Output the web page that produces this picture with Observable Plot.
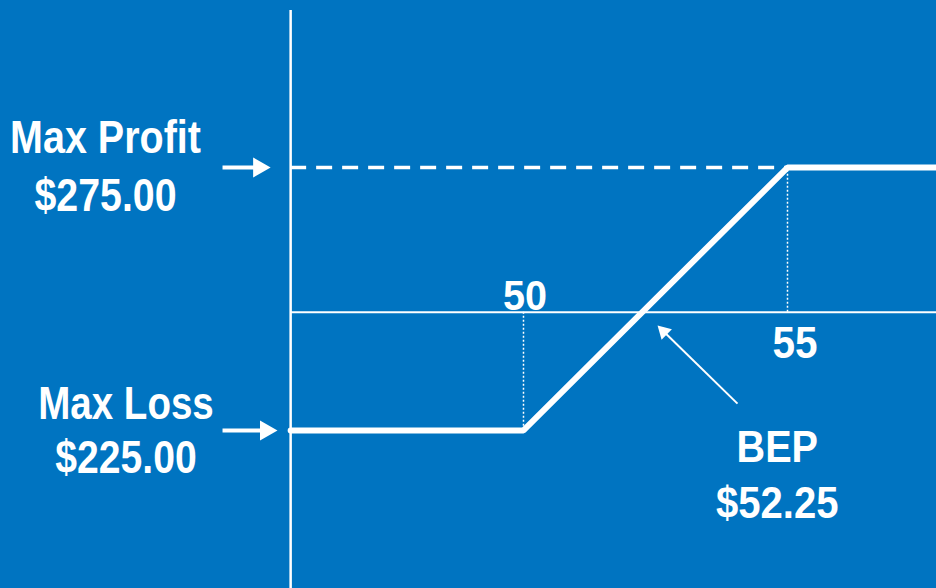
<!DOCTYPE html>
<html>
<head>
<meta charset="utf-8">
<script src="https://cdn.jsdelivr.net/npm/d3@7"></script>
<script src="https://cdn.jsdelivr.net/npm/@observablehq/plot@0.6"></script>
<style>
  html, body { margin: 0; padding: 0; background: #0074C1; }
  #chart svg { display: block; }
</style>
</head>
<body>
<div id="chart"></div>
<script>
// ---- data ----
const strikes = [50, 55];
const prices = [45.59, 50, 55, 58];          // underlying price at expiry
const pnl = [-225, -225, 275, 275];          // spread profit / loss
const maxProfit = 275;
const maxLoss = -225;
const bep = 52.25;
const axisX = 45.59;                          // price where the vertical axis is drawn
const labelProfit = "Max Profit";
const labelLoss = "Max Loss";
const labelBep = "BEP";

const fmt = v => "$" + d3.format(".2f")(Math.abs(v));
const payoff = prices.map((p, i) => ({price: p, pnl: pnl[i]}));

const font = '"Liberation Sans", Arial, sans-serif';
const white = "#ffffff";
const txt = {fill: white, fontWeight: "bold", lineAnchor: "bottom", textAnchor: "middle", fontFamily: font};

// horizontal condensing per label group (narrow bold face)
const condense = {"c-profit": 0.84, "c-profit-v": 0.855, "c-loss": 0.82, "c-loss-v": 0.85, "c-strike": 0.92, "c-bep": 0.9, "c-bep-v": 0.89};

const chart = Plot.plot({
  width: 936,
  height: 588,
  margin: 0,
  x: {domain: [40.095, 57.822], axis: null},
  y: {domain: [-525.4, 592.5], axis: null},
  style: {background: "#0074C1", fontFamily: font, overflow: "visible"},
  marks: [
    Plot.ruleX([axisX], {y1: 573.5, y2: -525.4, stroke: white, strokeWidth: 2.5}),
    Plot.ruleY([0], {x1: axisX, x2: 57.822, stroke: white, strokeWidth: 2}),
    Plot.ruleY([maxProfit], {x1: axisX, x2: strikes[1], stroke: white, strokeWidth: 3.5, strokeDasharray: "16,10"}),
    Plot.ruleX([strikes[0]], {y1: 0, y2: maxLoss, stroke: white, strokeWidth: 1.5, strokeDasharray: "2,2"}),
    Plot.ruleX([strikes[1]], {y1: 0, y2: maxProfit, stroke: white, strokeWidth: 1.5, strokeDasharray: "2,2"}),
    Plot.line(payoff, {x: "price", y: "pnl", stroke: white, strokeWidth: 6, strokeLinejoin: "miter", clip: true}),

    Plot.link([maxProfit], {x1: 44.30, x2: 44.99, y1: d => d, y2: d => d, stroke: white, strokeWidth: 4}),
    Plot.dot([maxProfit], {x: 44.99, y: d => d, symbol: "triangle", r: 7.5, rotate: 90, fill: white, stroke: null}),
    Plot.link([maxLoss], {x1: 44.30, x2: 45.12, y1: d => d, y2: d => d, stroke: white, strokeWidth: 4}),
    Plot.dot([maxLoss], {x: 45.12, y: d => d, symbol: "triangle", r: 7.5, rotate: 90, fill: white, stroke: null}),
    Plot.link([bep], {x1: 54.053, y1: -173.9, x2: 52.655, y2: -36.8, stroke: white, strokeWidth: 2}),
    Plot.dot([bep], {x: 52.655, y: -36.8, symbol: "triangle", r: 5.5, rotate: -45.7, fill: white, stroke: null}),

    Plot.text([labelProfit], {...txt, className: "c-profit", text: d => d, y: maxProfit, frameAnchor: "left", dx: 105, dy: -15, fontSize: 47}),
    Plot.text([maxProfit], {...txt, className: "c-profit-v", text: fmt, y: maxProfit, frameAnchor: "left", dx: 105, dy: 43, fontSize: 46}),
    Plot.text([labelLoss], {...txt, className: "c-loss", text: d => d, y: maxLoss, frameAnchor: "left", dx: 125.5, dy: -11, fontSize: 47}),
    Plot.text([maxLoss], {...txt, className: "c-loss-v", text: fmt, y: maxLoss, frameAnchor: "left", dx: 125.5, dy: 43, fontSize: 46}),
    Plot.text([strikes[0]], {...txt, className: "c-strike", text: d => String(d), x: d => d, y: 0, dx: 1.5, dy: -2, fontSize: 43}),
    Plot.text([strikes[1]], {...txt, className: "c-strike", text: d => String(d), x: d => d, y: 0, dx: 7.5, dy: 46, fontSize: 44}),
    Plot.text([labelBep], {...txt, className: "c-bep", text: d => d, x: bep, y: 0, dx: 135, dy: 150, fontSize: 44}),
    Plot.text([bep], {...txt, className: "c-bep-v", text: d => "$" + d3.format(".2f")(d), x: d => d, y: 0, dx: 135, dy: 206, fontSize: 45})
  ]
});

for (const [cls, k] of Object.entries(condense)) {
  d3.select(chart).selectAll(`g.${cls} text`).each(function () {
    const t = this.getAttribute("transform");
    if (t && t.includes("translate")) {
      this.setAttribute("transform", t + ` scale(${k},1)`);
    } else {
      const x = +(this.getAttribute("x") || 0);
      this.setAttribute("transform", `translate(${x},0) scale(${k},1) translate(${-x},0)`);
    }
  });
}

document.getElementById("chart").appendChild(chart);
</script>
</body>
</html>
